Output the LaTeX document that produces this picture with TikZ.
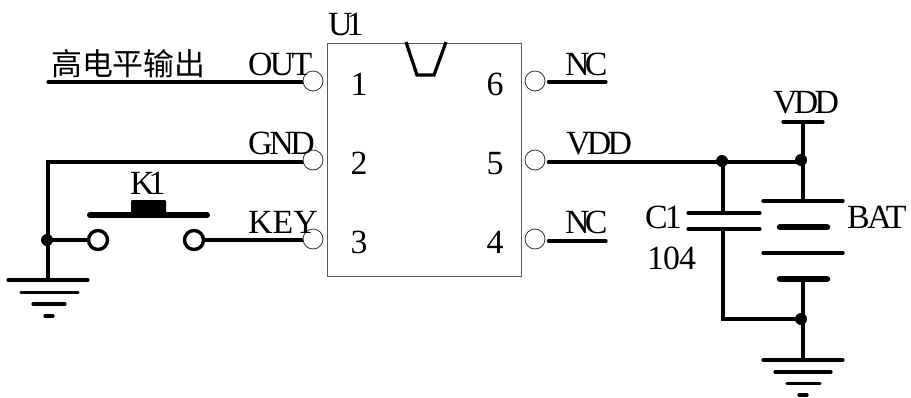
\documentclass[tikz,border=0pt]{standalone}
\usepackage{fontspec}
\setmainfont{Liberation Serif}
\newfontfamily\cjkfont{Noto Sans CJK SC}
\newcommand{\tsz}{\fontsize{34}{36}\selectfont}
\newcommand{\tight}[1]{\addfontfeature{LetterSpace=#1}}
\begin{document}
\begin{tikzpicture}[x=1bp,y=-1bp,
  wire/.style={line width=3.2bp,black,line cap=round,line join=miter},
  thick plate/.style={line width=6.5bp,black,line cap=round},
  gnd bar/.style={line width=3.2bp,black,line cap=round},
  pin/.style={circle,draw=black!80,line width=0.8bp,fill=white,minimum size=20bp,inner sep=0pt},
  contact/.style={circle,draw=black,line width=3.4bp,fill=white,minimum size=19bp,inner sep=0pt},
  dot/.style={circle,fill=black,minimum size=12bp,inner sep=0pt},
  lbl/.style={anchor=base west,inner sep=0pt,font=\tsz},
  num/.style={anchor=base,inner sep=0pt,font=\tsz}]
\useasboundingbox (0,0) rectangle (911,397);
\fill[white] (0,0) rectangle (911,397);
% chip
\node[draw=black!65,line width=1bp,minimum width=194bp,minimum height=233bp,inner sep=0pt] (chip) at (424,159.5) {};
\draw[line width=3.2bp,line join=miter] (406,42) -- (417,75) -- (434,75) -- (446,42);
% free ends and junctions
\coordinate (outend) at (48,82);
\coordinate (corner) at (48,162);
\coordinate (nc6) at (606,82);
\coordinate (nc4) at (606,241);
\coordinate (g1) at (48,280);
\coordinate (g2) at (803,360);
\coordinate (vddtop) at (803,122);
\coordinate (b1) at (803,201);
\coordinate (b4) at (803,279);
\coordinate (c1) at (723,213);
\coordinate (c2) at (723,229);
\coordinate (bot) at (723,319);
\node[contact] (k1) at (98,240) {};
\node[contact] (k2) at (194,240) {};
\node[dot] (j0) at (47,240) {};
\node[dot] (j1) at (722,161) {};
\node[dot] (j2) at (801,160) {};
\node[dot] (j3) at (801,319) {};
% wires
\draw[wire] (outend) -- (310,82);
\draw[wire] (g1) -- (corner) -- (310,162);
\draw[wire] (j0) -- (k1);
\draw[wire] (k2) -- (310,240);
% pins
\node[pin] (p1) at (313,81) {};
\node[pin] (p2) at (313,160) {};
\node[pin] (p3) at (313,239) {};
\node[pin] (p6) at (535,81) {};
\node[pin] (p5) at (535,160) {};
\node[pin] (p4) at (535,239) {};
\draw[wire] (p6.east |- nc6) ++(3,0) -- (nc6);
\draw[wire] (p4.east |- nc4) ++(3,0) -- (nc4);
\draw[wire] (p5.east |- 0,162) ++(3,0) -- (803,162);
\draw[wire] (vddtop) -- (b1);
\draw[wire] (b4) -- (g2);
\draw[wire] (j1) ++(1,0) -- (c1);
\draw[wire] (c2) -- (bot) -- (j3);
% caps and battery
\draw[gnd bar] (c1) ++(-35,0) -- ++(72,0);
\draw[gnd bar] (c2) ++(-35,0) -- ++(72,0);
\draw[gnd bar] (vddtop) ++(-20,0) -- ++(40,0);
\draw[gnd bar] (b1) ++(-40,0) -- ++(80,0);
\draw[thick plate] (780,227) -- (827,227);
\draw[gnd bar] (763,253) -- (843,253);
\draw[thick plate] (780,279) -- (827,279);
% grounds
\draw[gnd bar] (g1) ++(-40,0) -- ++(80,0);
\draw[gnd bar] (21,292.5) -- (78,292.5);
\draw[gnd bar] (33,304) -- (65,304);
\draw[gnd bar] (45,316) -- (53,316);
\draw[gnd bar] (g2) ++(-40,0) -- ++(80,0);
\draw[gnd bar] (775,372) -- (831,372);
\draw[gnd bar] (787,383.5) -- (820,383.5);
\draw[gnd bar] (799,395) -- (807,395);
% switch
\draw[line width=6bp,line cap=round] (90,215) -- (207,215);
\fill[rounded corners=1bp] (131,200) rectangle (166,216);
% labels
\node[lbl] (tHigh) at (51,75) {\fontsize{31}{33}\selectfont\cjkfont 高电平输出};
\node[lbl] (tOut) at (248,75) {\tight{-8}OUT};
\node[lbl] (tGnd) at (248,154) {\tight{-10}GND};
\node[lbl] (tKey) at (248,233) {KEY};
\node[lbl] (tK) at (130,194) {\tight{-18}K1};
\node[lbl] (tU) at (328,35) {\tight{-18}U1};
\node[num] (n1) at (359,95) {1};
\node[num] (n2) at (359,174) {2};
\node[num] (n3) at (359,253) {3};
\node[num] (n6) at (495,95) {6};
\node[num] (n5) at (495,174) {5};
\node[num] (n4) at (495,253) {4};
\node[lbl] (tNc1) at (565,75) {\tight{-14}NC};
\node[lbl] (tVdd) at (566,154) {\tight{-11}VDD};
\node[lbl] (tNc2) at (565,233) {\tight{-14}NC};
\node[lbl] (tVtop) at (773,113) {\tight{-11}VDD};
\node[lbl] (tC) at (645,228) {\tight{-9}C1};
\node[lbl] (tV) at (647,269) {\tight{-3}104};
\node[lbl] (tB) at (847,228) {\tight{-7}BAT};
\end{tikzpicture}
\end{document}
